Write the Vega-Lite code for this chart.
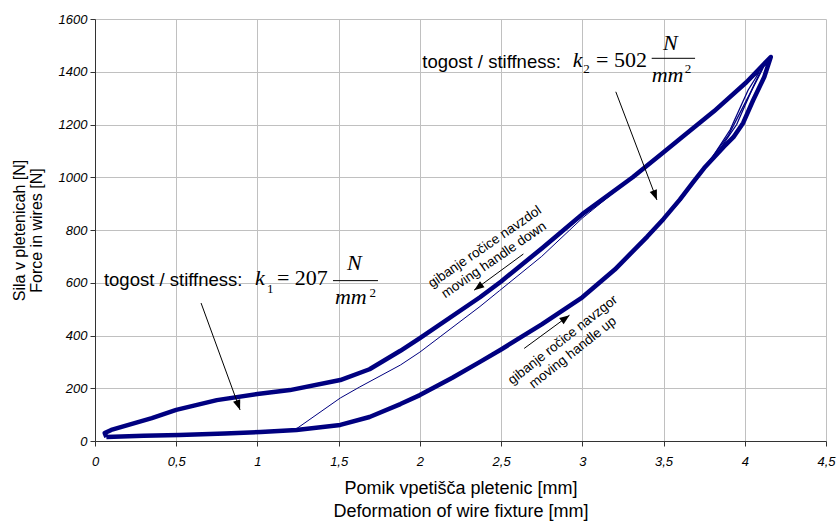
{
  "$schema": "https://vega.github.io/schema/vega-lite/v6.json",
  "width": 731,
  "height": 422,
  "autosize": {"type": "none"},
  "padding": {"left": 95, "top": 19, "right": 11, "bottom": 83},
  "background": "white",
  "config": {
    "view": {"stroke": null},
    "axis": {
      "labelFont": "Liberation Sans",
      "labelFontStyle": "italic",
      "labelFontSize": 13,
      "labelColor": "#000000",
      "labelFlush": false,
      "titleFont": "Liberation Sans",
      "titleFontWeight": "normal",
      "titleColor": "#000000",
      "gridColor": "#c0c0c0",
      "gridWidth": 1,
      "domainColor": "#333333",
      "tickColor": "#333333",
      "tickSize": 5
    }
  },
  "datasets": {
    "curve": [
      {"cycle": "main", "i": 0, "x": 0.07, "y": 15},
      {"cycle": "main", "i": 1, "x": 0.3, "y": 20},
      {"cycle": "main", "i": 2, "x": 0.52, "y": 23},
      {"cycle": "main", "i": 3, "x": 0.8, "y": 28},
      {"cycle": "main", "i": 4, "x": 1.02, "y": 34},
      {"cycle": "main", "i": 5, "x": 1.24, "y": 42},
      {"cycle": "main", "i": 6, "x": 1.51, "y": 61},
      {"cycle": "main", "i": 7, "x": 1.69, "y": 91},
      {"cycle": "main", "i": 8, "x": 1.88, "y": 140},
      {"cycle": "main", "i": 9, "x": 2.0, "y": 174},
      {"cycle": "main", "i": 10, "x": 2.2, "y": 240},
      {"cycle": "main", "i": 11, "x": 2.37, "y": 300},
      {"cycle": "main", "i": 12, "x": 2.5, "y": 347},
      {"cycle": "main", "i": 13, "x": 2.75, "y": 442},
      {"cycle": "main", "i": 14, "x": 3.0, "y": 545},
      {"cycle": "main", "i": 15, "x": 3.2, "y": 650},
      {"cycle": "main", "i": 16, "x": 3.4, "y": 775},
      {"cycle": "main", "i": 17, "x": 3.5, "y": 842},
      {"cycle": "main", "i": 18, "x": 3.6, "y": 915},
      {"cycle": "main", "i": 19, "x": 3.68, "y": 980},
      {"cycle": "main", "i": 20, "x": 3.75, "y": 1035},
      {"cycle": "main", "i": 21, "x": 3.87, "y": 1115},
      {"cycle": "main", "i": 22, "x": 3.93, "y": 1152},
      {"cycle": "main", "i": 23, "x": 3.99, "y": 1206},
      {"cycle": "main", "i": 24, "x": 4.05, "y": 1290},
      {"cycle": "main", "i": 25, "x": 4.12, "y": 1380},
      {"cycle": "main", "i": 26, "x": 4.16, "y": 1456},
      {"cycle": "main", "i": 27, "x": 4.01, "y": 1360},
      {"cycle": "main", "i": 28, "x": 3.81, "y": 1250},
      {"cycle": "main", "i": 29, "x": 3.6, "y": 1145},
      {"cycle": "main", "i": 30, "x": 3.5, "y": 1095},
      {"cycle": "main", "i": 31, "x": 3.31, "y": 1000},
      {"cycle": "main", "i": 32, "x": 3.0, "y": 860},
      {"cycle": "main", "i": 33, "x": 2.75, "y": 730},
      {"cycle": "main", "i": 34, "x": 2.5, "y": 605},
      {"cycle": "main", "i": 35, "x": 2.37, "y": 545},
      {"cycle": "main", "i": 36, "x": 2.0, "y": 390},
      {"cycle": "main", "i": 37, "x": 1.88, "y": 342},
      {"cycle": "main", "i": 38, "x": 1.69, "y": 272},
      {"cycle": "main", "i": 39, "x": 1.51, "y": 231},
      {"cycle": "main", "i": 40, "x": 1.2, "y": 193},
      {"cycle": "main", "i": 41, "x": 1.0, "y": 178},
      {"cycle": "main", "i": 42, "x": 0.75, "y": 155},
      {"cycle": "main", "i": 43, "x": 0.5, "y": 118},
      {"cycle": "main", "i": 44, "x": 0.35, "y": 87},
      {"cycle": "main", "i": 45, "x": 0.1, "y": 42},
      {"cycle": "main", "i": 46, "x": 0.06, "y": 30},
      {"cycle": "main", "i": 47, "x": 0.07, "y": 15},
      {"cycle": "c2", "i": 0, "x": 3.4, "y": 775},
      {"cycle": "c2", "i": 1, "x": 3.5, "y": 842},
      {"cycle": "c2", "i": 2, "x": 3.6, "y": 912},
      {"cycle": "c2", "i": 3, "x": 3.7, "y": 990},
      {"cycle": "c2", "i": 4, "x": 3.84, "y": 1100},
      {"cycle": "c2", "i": 5, "x": 3.95, "y": 1200},
      {"cycle": "c2", "i": 6, "x": 4.05, "y": 1340},
      {"cycle": "c2", "i": 7, "x": 4.11, "y": 1418},
      {"cycle": "c2", "i": 8, "x": 3.98, "y": 1343},
      {"cycle": "c2", "i": 9, "x": 3.81, "y": 1250},
      {"cycle": "c2", "i": 10, "x": 3.6, "y": 1145},
      {"cycle": "c3", "i": 0, "x": 3.5, "y": 840},
      {"cycle": "c3", "i": 1, "x": 3.6, "y": 908},
      {"cycle": "c3", "i": 2, "x": 3.8, "y": 1075},
      {"cycle": "c3", "i": 3, "x": 3.91, "y": 1180},
      {"cycle": "c3", "i": 4, "x": 4.02, "y": 1330},
      {"cycle": "c3", "i": 5, "x": 4.09, "y": 1399},
      {"cycle": "c3", "i": 6, "x": 3.97, "y": 1337},
      {"cycle": "c3", "i": 7, "x": 3.81, "y": 1248},
      {"cycle": "c3", "i": 8, "x": 3.6, "y": 1143},
      {"cycle": "c4", "i": 0, "x": 3.5, "y": 842},
      {"cycle": "c4", "i": 1, "x": 3.6, "y": 913},
      {"cycle": "c4", "i": 2, "x": 3.78, "y": 1060},
      {"cycle": "c4", "i": 3, "x": 3.9, "y": 1160},
      {"cycle": "c4", "i": 4, "x": 4.03, "y": 1315},
      {"cycle": "c4", "i": 5, "x": 4.13, "y": 1435},
      {"cycle": "c4", "i": 6, "x": 4.0, "y": 1352},
      {"cycle": "c4", "i": 7, "x": 3.81, "y": 1249},
      {"cycle": "c4", "i": 8, "x": 3.6, "y": 1144},
      {"cycle": "init", "i": 0, "x": 1.23, "y": 42},
      {"cycle": "init", "i": 1, "x": 1.51, "y": 163},
      {"cycle": "init", "i": 2, "x": 1.63, "y": 205},
      {"cycle": "init", "i": 3, "x": 1.88, "y": 288},
      {"cycle": "init", "i": 4, "x": 2.0, "y": 337},
      {"cycle": "init", "i": 5, "x": 2.37, "y": 510},
      {"cycle": "init", "i": 6, "x": 2.49, "y": 570},
      {"cycle": "init", "i": 7, "x": 2.75, "y": 700},
      {"cycle": "init", "i": 8, "x": 3.0, "y": 845},
      {"cycle": "init", "i": 9, "x": 3.31, "y": 1000}
    ],
    "notes": [
      {"kind": "label", "x": 0.055, "y": 588, "text": "togost / stiffness:"},
      {"kind": "it", "x": 0.985, "y": 591, "text": "k"},
      {"kind": "sub", "x": 1.059, "y": 561, "text": "1"},
      {"kind": "rm", "x": 1.12, "y": 591, "text": "= 207"},
      {"kind": "it", "x": 1.551, "y": 648, "text": "N"},
      {"kind": "it", "x": 1.477, "y": 519, "text": "mm"},
      {"kind": "sub", "x": 1.69, "y": 546, "text": "2"},
      {"kind": "label", "x": 2.015, "y": 1415, "text": "togost / stiffness:"},
      {"kind": "it", "x": 2.941, "y": 1419, "text": "k"},
      {"kind": "sub", "x": 3.006, "y": 1394, "text": "2"},
      {"kind": "rm", "x": 3.084, "y": 1419, "text": "= 502"},
      {"kind": "it", "x": 3.497, "y": 1482, "text": "N"},
      {"kind": "it", "x": 3.427, "y": 1360, "text": "mm"},
      {"kind": "sub", "x": 3.63, "y": 1394, "text": "2"},
      {"kind": "rot1", "x": 2.4, "y": 736, "text": "gibanje ročice navzdol\nmoving handle down"},
      {"kind": "rot2", "x": 2.88, "y": 383, "text": "gibanje ročice navzgor\nmoving handle up"}
    ],
    "bars": [
      {"x": 1.465, "x2": 1.742, "y": 608},
      {"x": 3.427, "x2": 3.694, "y": 1451}
    ],
    "arrows": [
      {"id": "a1", "x": 0.653, "y": 523, "x2": 0.893, "y2": 118},
      {"id": "a2", "x": 3.206, "y": 1324, "x2": 3.459, "y2": 914},
      {"id": "a3", "x": 2.637, "y": 709, "x2": 2.334, "y2": 572},
      {"id": "a4", "x": 2.642, "y": 351, "x2": 2.921, "y2": 477}
    ]
  },
  "layer": [
    {
      "data": {"name": "curve"},
      "transform": [{"filter": "datum.cycle === 'main'"}],
      "mark": {"type": "line", "color": "#000080", "strokeWidth": 4.5, "strokeJoin": "round"},
      "encoding": {
        "x": {
          "field": "x", "type": "quantitative",
          "scale": {"domain": [0, 4.5], "nice": false},
          "axis": {
            "values": [0, 0.5, 1, 1.5, 2, 2.5, 3, 3.5, 4, 4.5],
            "format": "~g",
            "labelExpr": "replace(datum.label, '.', ',')",
            "labelPadding": 9,
            "titlePadding": 11,
            "titleFontSize": 18,
            "titleLineHeight": 23,
            "title": ["Pomik vpetišča pletenic [mm]", "Deformation of wire fixture [mm]"]
          }
        },
        "y": {
          "field": "y", "type": "quantitative",
          "scale": {"domain": [0, 1600], "nice": false},
          "axis": {
            "values": [0, 200, 400, 600, 800, 1000, 1200, 1400, 1600],
            "format": "d",
            "labelPadding": 3,
            "titlePadding": 14,
            "titleFontSize": 16,
            "titleLineHeight": 17,
            "title": ["Sila v pletenicah [N]", "Force in wires [N]"]
          }
        },
        "order": {"field": "i", "type": "quantitative"}
      }
    },
    {
      "data": {"name": "curve"},
      "transform": [{"filter": "datum.cycle === 'c2' || datum.cycle === 'c3' || datum.cycle === 'c4'"}],
      "mark": {"type": "line", "color": "#000080", "strokeWidth": 1.3},
      "encoding": {
        "x": {"field": "x", "type": "quantitative"},
        "y": {"field": "y", "type": "quantitative"},
        "detail": {"field": "cycle"},
        "order": {"field": "i", "type": "quantitative"}
      }
    },
    {
      "data": {"name": "curve"},
      "transform": [{"filter": "datum.cycle === 'init'"}],
      "mark": {"type": "line", "color": "#000080", "strokeWidth": 1},
      "encoding": {
        "x": {"field": "x", "type": "quantitative"},
        "y": {"field": "y", "type": "quantitative"},
        "order": {"field": "i", "type": "quantitative"}
      }
    },
    {
      "data": {"name": "arrows"},
      "mark": {"type": "rule", "color": "#000000", "strokeWidth": 1},
      "encoding": {
        "x": {"field": "x", "type": "quantitative"},
        "y": {"field": "y", "type": "quantitative"},
        "x2": {"field": "x2"},
        "y2": {"field": "y2"}
      }
    },
    {
      "data": {"name": "arrows"},
      "transform": [{"filter": "datum.id === 'a1'"}],
      "mark": {"type": "point", "shape": "M0,0L-0.38,1L0.38,1Z", "size": 400, "filled": true, "color": "#000000", "opacity": 1, "strokeWidth": 0, "angle": 160},
      "encoding": {"x": {"field": "x2", "type": "quantitative"}, "y": {"field": "y2", "type": "quantitative"}}
    },
    {
      "data": {"name": "arrows"},
      "transform": [{"filter": "datum.id === 'a2'"}],
      "mark": {"type": "point", "shape": "M0,0L-0.38,1L0.38,1Z", "size": 400, "filled": true, "color": "#000000", "opacity": 1, "strokeWidth": 0, "angle": 159},
      "encoding": {"x": {"field": "x2", "type": "quantitative"}, "y": {"field": "y2", "type": "quantitative"}}
    },
    {
      "data": {"name": "arrows"},
      "transform": [{"filter": "datum.id === 'a3'"}],
      "mark": {"type": "point", "shape": "M0,0L-0.38,1L0.38,1Z", "size": 400, "filled": true, "color": "#000000", "opacity": 1, "strokeWidth": 0, "angle": 234},
      "encoding": {"x": {"field": "x2", "type": "quantitative"}, "y": {"field": "y2", "type": "quantitative"}}
    },
    {
      "data": {"name": "arrows"},
      "transform": [{"filter": "datum.id === 'a4'"}],
      "mark": {"type": "point", "shape": "M0,0L-0.38,1L0.38,1Z", "size": 400, "filled": true, "color": "#000000", "opacity": 1, "strokeWidth": 0, "angle": 54},
      "encoding": {"x": {"field": "x2", "type": "quantitative"}, "y": {"field": "y2", "type": "quantitative"}}
    },
    {
      "data": {"name": "bars"},
      "mark": {"type": "rule", "color": "#000000", "strokeWidth": 1},
      "encoding": {
        "x": {"field": "x", "type": "quantitative"},
        "x2": {"field": "x2"},
        "y": {"field": "y", "type": "quantitative"}
      }
    },
    {
      "data": {"name": "notes"},
      "transform": [{"filter": "datum.kind === 'label'"}],
      "mark": {"type": "text", "font": "Liberation Sans", "fontSize": 18.5, "align": "left", "baseline": "alphabetic", "color": "#000000"},
      "encoding": {"x": {"field": "x", "type": "quantitative"}, "y": {"field": "y", "type": "quantitative"}, "text": {"field": "text"}}
    },
    {
      "data": {"name": "notes"},
      "transform": [{"filter": "datum.kind === 'it'"}],
      "mark": {"type": "text", "font": "Liberation Serif", "fontStyle": "italic", "fontSize": 22, "align": "left", "baseline": "alphabetic", "color": "#000000"},
      "encoding": {"x": {"field": "x", "type": "quantitative"}, "y": {"field": "y", "type": "quantitative"}, "text": {"field": "text"}}
    },
    {
      "data": {"name": "notes"},
      "transform": [{"filter": "datum.kind === 'rm'"}],
      "mark": {"type": "text", "font": "Liberation Serif", "fontSize": 22, "align": "left", "baseline": "alphabetic", "color": "#000000"},
      "encoding": {"x": {"field": "x", "type": "quantitative"}, "y": {"field": "y", "type": "quantitative"}, "text": {"field": "text"}}
    },
    {
      "data": {"name": "notes"},
      "transform": [{"filter": "datum.kind === 'sub'"}],
      "mark": {"type": "text", "font": "Liberation Serif", "fontSize": 13, "align": "left", "baseline": "alphabetic", "color": "#000000"},
      "encoding": {"x": {"field": "x", "type": "quantitative"}, "y": {"field": "y", "type": "quantitative"}, "text": {"field": "text"}}
    },
    {
      "data": {"name": "notes"},
      "transform": [{"filter": "datum.kind === 'rot1'"}],
      "mark": {"type": "text", "font": "Liberation Sans", "fontSize": 13.5, "align": "center", "baseline": "middle", "lineBreak": "\n", "lineHeight": 16, "angle": 325.5, "color": "#000000"},
      "encoding": {"x": {"field": "x", "type": "quantitative"}, "y": {"field": "y", "type": "quantitative"}, "text": {"field": "text"}}
    },
    {
      "data": {"name": "notes"},
      "transform": [{"filter": "datum.kind === 'rot2'"}],
      "mark": {"type": "text", "font": "Liberation Sans", "fontSize": 13.5, "align": "center", "baseline": "middle", "lineBreak": "\n", "lineHeight": 16, "angle": 321.7, "color": "#000000"},
      "encoding": {"x": {"field": "x", "type": "quantitative"}, "y": {"field": "y", "type": "quantitative"}, "text": {"field": "text"}}
    }
  ]
}
